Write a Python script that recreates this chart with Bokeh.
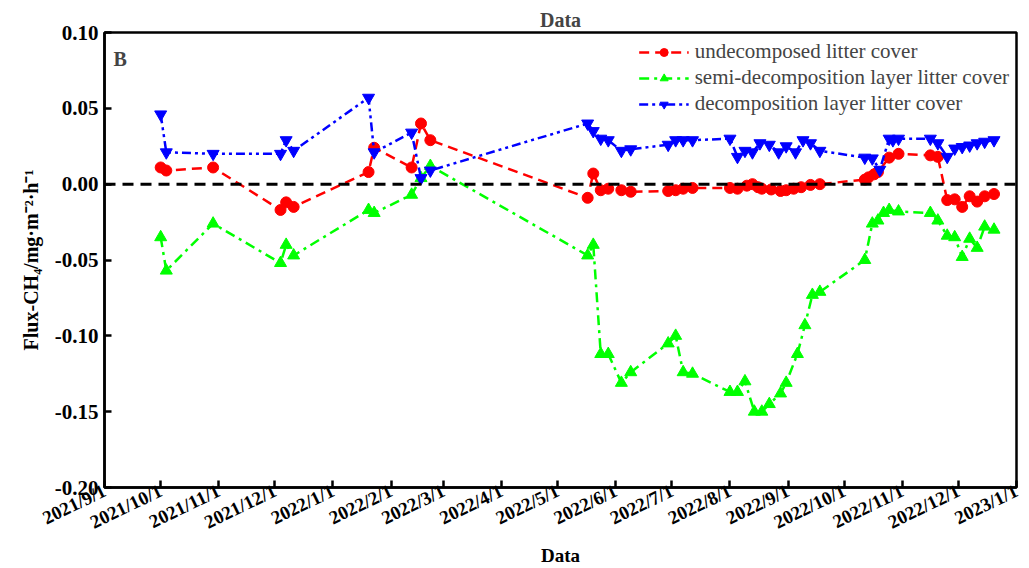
from datetime import datetime
from bokeh.plotting import figure
from bokeh.models import Range1d, FixedTicker, Span, Label, Legend, LegendItem
from bokeh.embed import file_html
from bokeh.resources import INLINE

# ---------------- data ----------------
red_dates = ["2021-10-01", "2021-10-04", "2021-10-29", "2021-12-04", "2021-12-07", "2021-12-11",
             "2022-01-20", "2022-01-23", "2022-02-12", "2022-02-17", "2022-02-22",
             "2022-05-17", "2022-05-20", "2022-05-24", "2022-05-28", "2022-06-04", "2022-06-09",
             "2022-06-29", "2022-07-03", "2022-07-07", "2022-07-12",
             "2022-08-01", "2022-08-05", "2022-08-10", "2022-08-13", "2022-08-16", "2022-08-18",
             "2022-08-23", "2022-08-28", "2022-08-31", "2022-09-04", "2022-09-08", "2022-09-13",
             "2022-09-18", "2022-10-12", "2022-10-14", "2022-10-17", "2022-10-19", "2022-10-25",
             "2022-10-30", "2022-11-16", "2022-11-20", "2022-11-25", "2022-11-29", "2022-12-03",
             "2022-12-07", "2022-12-11", "2022-12-15", "2022-12-20"]
red_values = [0.011, 0.009, 0.011, -0.017, -0.012, -0.015,
              0.008, 0.024, 0.011, 0.040, 0.029,
              -0.009, 0.007, -0.004, -0.003, -0.004, -0.005,
              -0.0045, -0.004, -0.003, -0.0025,
              -0.0025, -0.003, -0.001, 0.000, -0.002, -0.003,
              -0.0035, -0.0045, -0.004, -0.003, -0.002, -0.0005,
              0.000, 0.003, 0.0045, 0.0065, 0.008, 0.0175,
              0.020, 0.019, 0.018, -0.0105, -0.010, -0.015,
              -0.008, -0.0115, -0.008, -0.0065]

green_dates = ["2021-10-01", "2021-10-04", "2021-10-29", "2021-12-04", "2021-12-07", "2021-12-11",
               "2022-01-20", "2022-01-23", "2022-02-12", "2022-02-17", "2022-02-22",
               "2022-05-17", "2022-05-20", "2022-05-24", "2022-05-28", "2022-06-04", "2022-06-09",
               "2022-06-29", "2022-07-03", "2022-07-07", "2022-07-12",
               "2022-08-01", "2022-08-05", "2022-08-09", "2022-08-14", "2022-08-18", "2022-08-22",
               "2022-08-28", "2022-08-31", "2022-09-06", "2022-09-10", "2022-09-14", "2022-09-18",
               "2022-10-12", "2022-10-16", "2022-10-19", "2022-10-22", "2022-10-25", "2022-10-30",
               "2022-11-16", "2022-11-20", "2022-11-25", "2022-11-29", "2022-12-03", "2022-12-07",
               "2022-12-11", "2022-12-15", "2022-12-20"]
green_values = [-0.035, -0.057, -0.026, -0.052, -0.040, -0.047,
                -0.017, -0.019, -0.007, 0.004, 0.012,
                -0.047, -0.040, -0.112, -0.112, -0.131, -0.124,
                -0.105, -0.100, -0.124, -0.125,
                -0.137, -0.137, -0.130, -0.150, -0.150, -0.145,
                -0.138, -0.131, -0.112, -0.093, -0.073, -0.071,
                -0.050, -0.026, -0.024, -0.019, -0.017, -0.018,
                -0.019, -0.024, -0.034, -0.035, -0.048, -0.036,
                -0.042, -0.028, -0.030]

blue_dates = ["2021-10-01", "2021-10-04", "2021-10-29", "2021-12-04", "2021-12-07", "2021-12-11",
              "2022-01-20", "2022-01-23", "2022-02-12", "2022-02-17", "2022-02-22",
              "2022-05-17", "2022-05-20", "2022-05-24", "2022-05-28", "2022-06-04", "2022-06-09",
              "2022-06-29", "2022-07-03", "2022-07-07", "2022-07-12",
              "2022-08-01", "2022-08-05", "2022-08-09", "2022-08-13", "2022-08-17", "2022-08-22",
              "2022-08-27", "2022-08-31", "2022-09-05", "2022-09-09", "2022-09-13", "2022-09-18",
              "2022-10-12", "2022-10-16", "2022-10-20", "2022-10-25", "2022-10-27", "2022-10-30",
              "2022-11-16", "2022-11-20", "2022-11-25", "2022-11-29", "2022-12-03", "2022-12-07",
              "2022-12-11", "2022-12-15", "2022-12-20"]
blue_values = [0.046, 0.021, 0.020, 0.020, 0.029, 0.022,
               0.057, 0.021, 0.034, 0.004, 0.009,
               0.040, 0.035, 0.030, 0.029, 0.022, 0.023,
               0.026, 0.029, 0.029, 0.029,
               0.030, 0.018, 0.022, 0.021, 0.027, 0.026,
               0.021, 0.025, 0.021, 0.029, 0.027, 0.022,
               0.0175, 0.017, 0.0095, 0.030, 0.029, 0.030,
               0.030, 0.027, 0.018, 0.0235, 0.0245, 0.0255,
               0.027, 0.028, 0.029]

series_names = ["undecomposed litter cover",
                "semi-decomposition layer litter cover",
                "decomposition layer litter cover"]

tick_dates = ["2021-09-01", "2021-10-01", "2021-11-01", "2021-12-01", "2022-01-01", "2022-02-01",
              "2022-03-01", "2022-04-01", "2022-05-01", "2022-06-01", "2022-07-01", "2022-08-01",
              "2022-09-01", "2022-10-01", "2022-11-01", "2022-12-01", "2023-01-01"]
tick_labels = ["2021/9/1", "2021/10/1", "2021/11/1", "2021/12/1", "2022/1/1", "2022/2/1",
               "2022/3/1", "2022/4/1", "2022/5/1", "2022/6/1", "2022/7/1", "2022/8/1",
               "2022/9/1", "2022/10/1", "2022/11/1", "2022/12/1", "2023/1/1"]
y_ticks = [-0.20, -0.15, -0.10, -0.05, 0.00, 0.05, 0.10]
y_tick_labels = ["-0.20", "-0.15", "-0.10", "-0.05", "0.00", "0.05", "0.10"]

# ---------------- helpers ----------------
EPOCH = datetime(1970, 1, 1)


def to_dt(s):
    return datetime.strptime(s, "%Y-%m-%d")


def to_ms(s):
    return int((to_dt(s) - EPOCH).total_seconds() * 1000)


FONT = "Liberation Serif"

p = figure(width=1029, height=568, x_axis_type="datetime",
           x_range=Range1d(to_dt(tick_dates[0]), to_dt(tick_dates[-1])),
           y_range=Range1d(-0.20, 0.10),
           output_backend="svg", toolbar_location=None,
           min_border_left=104, min_border_right=13, min_border_top=32, min_border_bottom=80,
           title="Data")

p.background_fill_color = "white"
p.border_fill_color = "white"
p.grid.visible = False
p.outline_line_color = "black"
p.outline_line_width = 2.5

p.title.align = "center"
p.title.text_font = FONT
p.title.text_font_size = "20px"
p.title.text_font_style = "bold"
p.title.offset = 0
p.title.standoff = 3

# axes
xa = p.xaxis[0]
xa.ticker = FixedTicker(ticks=[to_ms(d) for d in tick_dates])
xa.major_label_overrides = {to_ms(d): lab for d, lab in zip(tick_dates, tick_labels)}
xa.major_label_orientation = 0.45
xa.axis_label = "Data"
xa.axis_label_standoff = 0

ya = p.yaxis[0]
ya.ticker = FixedTicker(ticks=y_ticks)
ya.major_label_overrides = {t: lab for t, lab in zip(y_ticks, y_tick_labels)}
ya.axis_label = "Flux-CH\u2084/mg\u00b7m\u207b\u00b2\u00b7h\u207b\u00b9"
ya.axis_label_standoff = 10

for ax in (xa, ya):
    ax.axis_line_width = 2.5
    ax.axis_line_color = "black"
    ax.major_tick_in = 7
    ax.major_tick_out = 0
    ax.major_tick_line_width = 2.5
    ax.minor_tick_line_color = None
    ax.major_label_text_font = FONT
    ax.major_label_text_font_style = "bold"
    ax.major_label_text_color = "black"
    ax.axis_label_text_font = FONT
    ax.axis_label_text_font_style = "bold"
    ax.axis_label_text_color = "black"
xa.major_label_text_font_size = "19px"
ya.major_label_text_font_size = "21px"
xa.axis_label_text_font_size = "19px"
ya.axis_label_text_font_size = "20px"
ya.major_label_standoff = 6
xa.major_label_standoff = 2

# zero line
p.add_layout(Span(location=0, dimension="width", line_color="black",
                  line_width=3, line_dash="11 7"))

# series
specs = [
    (red_dates, red_values, "#ff0000", "10 6", "circle", 11),
    (green_dates, green_values, "#00ff00", "10 5 3 5", "triangle", 12),
    (blue_dates, blue_values, "#0000ff", "9 4 3 4 3 4", "inverted_triangle", 12),
]
items = []
for (dates, vals, color, dash, marker, size), name in zip(specs, series_names):
    xs = [to_dt(d) for d in dates]
    r1 = p.line(xs, vals, line_color=color, line_width=2.5, line_dash=dash)
    r2 = p.scatter(xs, vals, marker=marker, size=size, fill_color=color, line_color=color)
    items.append(LegendItem(label=name, renderers=[r1, r2]))

legend = Legend(items=items, location="top_right")
legend.background_fill_alpha = 0
legend.border_line_color = None
legend.label_text_font = FONT
legend.label_text_font_size = "21px"
legend.label_height = 20
legend.glyph_width = 50
legend.glyph_height = 20
legend.spacing = 1
legend.padding = 0
legend.margin = 7
legend.label_standoff = 6
p.add_layout(legend)

p.add_layout(Label(x=9, y=418, x_units="screen", y_units="screen", text="B",
                   text_font=FONT, text_font_style="bold", text_font_size="20px"))

open("out.html", "w").write(file_html(p, INLINE))
